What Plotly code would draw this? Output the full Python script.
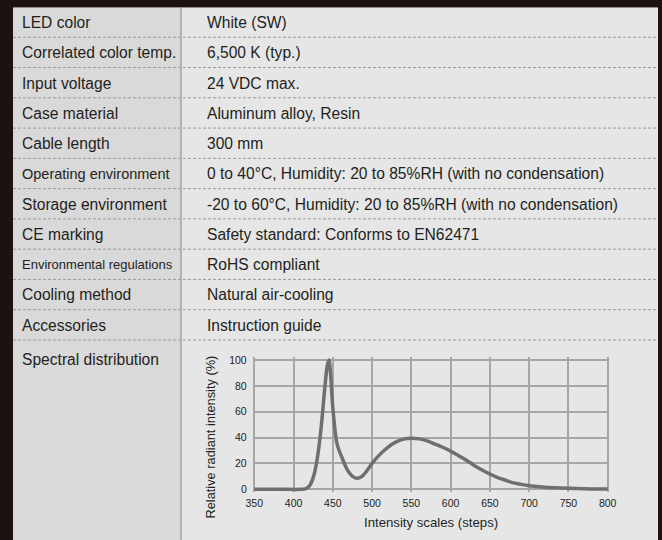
import plotly.graph_objects as go

# ---------------- data ----------------
spec_labels = ["LED color", "Correlated color temp.", "Input voltage", "Case material",
               "Cable length", "Operating environment", "Storage environment", "CE marking",
               "Environmental regulations", "Cooling method", "Accessories", "Spectral distribution"]
spec_values = ["White (SW)", "6,500 K (typ.)", "24 VDC max.", "Aluminum alloy, Resin",
               "300 mm", "0 to 40°C, Humidity: 20 to 85%RH (with no condensation)",
               "-20 to 60°C, Humidity: 20 to 85%RH (with no condensation)",
               "Safety standard: Conforms to EN62471", "RoHS compliant",
               "Natural air-cooling", "Instruction guide", ""]

wavelength = [350, 380, 410, 415, 420, 425, 430, 435, 440, 443, 445, 447, 450, 455, 458,
              462, 466, 470, 475, 481, 487, 493, 500, 510, 520, 530, 540, 550, 560, 570,
              580, 590, 600, 610, 620, 630, 640, 650, 660, 670, 680, 690, 700, 720, 740,
              760, 780, 800]
intensity = [0, 0, 0, 0.4, 2.5, 9, 23, 47, 80, 96, 100, 90, 63, 36, 30,
             24, 18, 13.5, 10, 8.5, 10, 14, 20, 27, 32.5, 36.5, 38.8, 39.5, 39, 37.5,
             35, 32.5, 29.5, 26, 22.5, 18.5, 15, 11.8, 9, 7, 5, 3.8, 2.8, 1.6, 1,
             0.6, 0.3, 0.2]

x_ticks = [350, 400, 450, 500, 550, 600, 650, 700, 750, 800]
y_ticks = [0, 20, 40, 60, 80, 100]

# ---------------- layout helpers ----------------
W, H = 662, 540
def px(x):
    return x / W
def py(y):
    return 1 - y / H

DARK = "#1b1211"
LEFT_BG = "#d9d9d9"
RIGHT_BG = "#e6e6e6"
TEXT = "#231f20"
FONT = "Liberation Sans, Arial, Helvetica, sans-serif"

TOP, LEFT, RIGHT, SPLIT = 7, 13, 658, 181
ROW_H = 30.27
MAIN_SIZE = 15.6

label_sizes = {"Operating environment": 14.5, "Environmental regulations": 13}

fig = go.Figure()

fig.add_trace(go.Scatter(
    x=wavelength, y=intensity, mode="lines",
    line=dict(color="#6f6f6f", width=3.5, shape="spline", smoothing=0.8),
    hoverinfo="skip", showlegend=False))

shapes = [
    dict(type="rect", xref="paper", yref="paper", x0=px(LEFT), x1=px(SPLIT),
         y0=0, y1=py(TOP), fillcolor=LEFT_BG, line=dict(width=0), layer="below"),
    dict(type="rect", xref="paper", yref="paper", x0=px(SPLIT), x1=px(RIGHT),
         y0=0, y1=py(TOP), fillcolor=RIGHT_BG, line=dict(width=0), layer="below"),
    dict(type="line", xref="paper", yref="paper", x0=px(LEFT), x1=px(RIGHT),
         y0=py(TOP + 0.5), y1=py(TOP + 0.5), line=dict(color="#8c8c8c", width=1)),
    dict(type="line", xref="paper", yref="paper", x0=px(SPLIT), x1=px(SPLIT),
         y0=0, y1=py(TOP), line=dict(color="#a3a3a3", width=1.5)),
]
for k in range(1, len(spec_labels)):
    yy = TOP + ROW_H * k
    shapes.append(dict(type="line", xref="paper", yref="paper", x0=px(LEFT), x1=px(RIGHT),
                       y0=py(yy), y1=py(yy),
                       line=dict(color="#9b9b9b", width=1, dash="3px,2px")))

annotations = []
for k, (lab, val) in enumerate(zip(spec_labels, spec_values)):
    yc = TOP + ROW_H * k + 15.5
    if lab == "Spectral distribution":
        yc = TOP + ROW_H * k + 19.5
    annotations.append(dict(text=lab, xref="paper", yref="paper", x=px(19.5), y=py(yc),
                            xanchor="left", yanchor="middle", showarrow=False,
                            font=dict(family=FONT, size=label_sizes.get(lab, MAIN_SIZE), color=TEXT)))
    if val:
        annotations.append(dict(text=val, xref="paper", yref="paper", x=px(204.5), y=py(yc),
                                xanchor="left", yanchor="middle", showarrow=False,
                                font=dict(family=FONT, size=MAIN_SIZE, color=TEXT)))

annotations.append(dict(text="Relative radiant intensity (%)", xref="paper", yref="paper",
                        x=px(210), y=py(437.5), textangle=-90, xanchor="center",
                        yanchor="middle", showarrow=False,
                        font=dict(family=FONT, size=12.8, color=TEXT)))
annotations.append(dict(text="Intensity scales (steps)", xref="paper", yref="paper",
                        x=px(430.5), y=py(522.5), xanchor="center", yanchor="middle",
                        showarrow=False, font=dict(family=FONT, size=13.2, color=TEXT)))

GRID = "#a6a6a6"
fig.update_layout(
    width=W, height=H, margin=dict(l=0, r=0, t=0, b=0, autoexpand=False),
    paper_bgcolor=DARK, plot_bgcolor=RIGHT_BG,
    shapes=shapes, annotations=annotations, showlegend=False,
    xaxis=dict(domain=[252.73 / W, 609.27 / W], range=[348, 802],
               tickvals=x_ticks, ticktext=[str(v) for v in x_ticks],
               showgrid=True, gridcolor=GRID, gridwidth=1.5, zeroline=False,
               showline=False, ticks="", ticklabelstandoff=4, automargin=False,
               tickfont=dict(family=FONT, size=10.5, color=TEXT), fixedrange=True),
    yaxis=dict(domain=[1 - 491.9 / H, 1 - 357.4 / H], range=[-2, 102],
               tickvals=y_ticks, ticktext=[str(v) for v in y_ticks],
               showgrid=True, gridcolor=GRID, gridwidth=1.5, zeroline=False,
               showline=False, ticks="", ticklabelstandoff=5, automargin=False,
               tickfont=dict(family=FONT, size=10.5, color=TEXT), fixedrange=True),
)

fig.write_html("out.html", config={"displayModeBar": False},
               post_script="document.body.style.margin='0';document.body.style.overflow='hidden';")
